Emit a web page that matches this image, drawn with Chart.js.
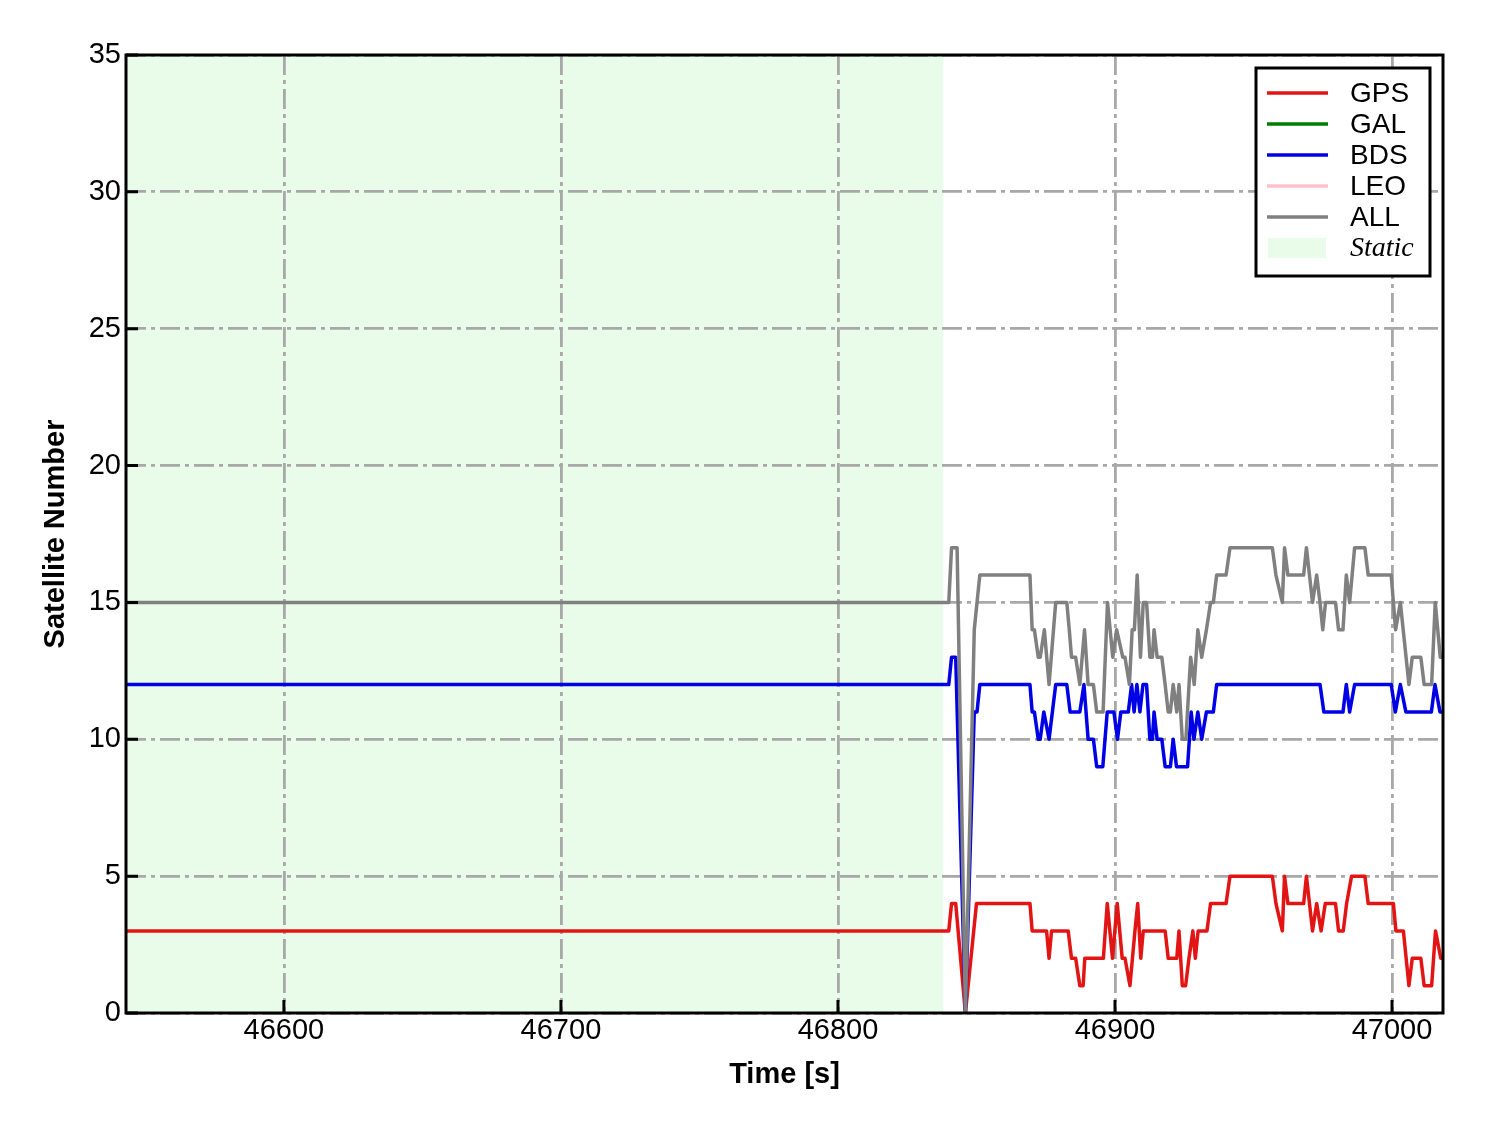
<!DOCTYPE html>
<html>
<head>
<meta charset="utf-8">
<script src="https://cdn.jsdelivr.net/npm/chart.js@4/dist/chart.umd.min.js"></script>
<style>
  html, body { margin: 0; padding: 0; background: #fff; }
  #wrap { width: 1488px; height: 1133px; }
</style>
</head>
<body>
<div id="wrap"><canvas id="satChart" width="1488" height="1133"></canvas></div>
<script>
// ---------------------------
// Data (time in seconds of day)
// ---------------------------
const timeMin = 46543;
const timeMax = 47018.4;
const staticEnd = 46838;

const xTicks = [46600, 46700, 46800, 46900, 47000];
const yTicks = [0, 5, 10, 15, 20, 25, 30, 35];

// GPS: change points
const gpsTime = [46540, 46840, 46841, 46842.5, 46846, 46850, 46869.3, 46870.1, 46875.3, 46876.2,
  46877.1, 46883.1, 46884.3, 46885.8, 46887.3, 46888.5, 46889.1, 46895.8, 46897.2, 46899.1,
  46900.8, 46902.6, 46903.6, 46905.4, 46907.2, 46908.2, 46909.3, 46910.2, 46918.1, 46919.2,
  46922.3, 46923.1, 46924.3, 46925.5, 46926.7, 46928.1, 46929, 46930, 46933.2, 46934.5,
  46940.1, 46941.5, 46956.8, 46958.1, 46960.4, 46961.2, 46962.4, 46968.1, 46969.1, 46971.3,
  46972.8, 46974.4, 46975.9, 46979.6, 46980.7, 46982.4, 46983.6, 46985.4, 46990.2, 46991.4,
  47000.5, 47001.4, 47004.1, 47006.1, 47007.3, 47010.4, 47011.6, 47014.3, 47015.7, 47017.6,
  47019];
const gpsSat = [3, 3, 4, 4, 0, 4, 4, 3, 3, 2,
  3, 3, 2, 2, 1, 1, 2, 2, 4, 2,
  4, 2, 2, 1, 3, 4, 2, 3, 3, 2,
  2, 3, 1, 1, 2, 3, 2, 3, 3, 4,
  4, 5, 5, 4, 3, 5, 4, 4, 5, 3,
  4, 3, 4, 4, 3, 3, 4, 5, 5, 4,
  4, 3, 3, 1, 2, 2, 1, 1, 3, 2,
  2];

// BDS: change points
const bdsTime = [46540, 46840, 46841, 46842.5, 46846, 46849.2, 46850.2, 46851.2, 46869.3, 46870.1,
  46870.9, 46872.3, 46873, 46874.3, 46876.2, 46878.6, 46882.6, 46883.8, 46887.3, 46888.8,
  46890.3, 46892.2, 46893.4, 46895.6, 46897.2, 46899.6, 46900.9, 46902.1, 46904.8, 46906,
  46906.9, 46907.9, 46909, 46910.1, 46911.4, 46912.6, 46913.5, 46914.1, 46915.2, 46916.9,
  46918.1, 46920, 46921, 46922.2, 46926.2, 46927.5, 46928.5, 46929.9, 46931.3, 46933,
  46935.5, 46936.7, 46974, 46975.4, 46982.3, 46983.5, 46984.7, 46986.5, 46999.7, 47001.2,
  47003, 47005, 47014.2, 47015.5, 47017.3, 47019];
const bdsSat = [12, 12, 13, 13, 0, 11, 11, 12, 12, 11,
  11, 10, 10, 11, 10, 12, 12, 11, 11, 12,
  10, 10, 9, 9, 11, 11, 10, 11, 11, 12,
  11, 12, 11, 12, 12, 10, 10, 11, 10, 10,
  9, 9, 10, 9, 9, 11, 10, 11, 10, 11,
  11, 12, 12, 11, 11, 12, 11, 12, 12, 11,
  12, 11, 11, 12, 11, 11];

// ALL: change points
const allTime = [46540, 46840, 46841, 46843, 46846, 46849.2, 46850.2, 46851.2, 46869.3, 46870.1,
  46870.9, 46872.3, 46873, 46874.5, 46876.2, 46878.6, 46882.6, 46883.5, 46884.3, 46885.8,
  46887.3, 46889, 46890.3, 46892.2, 46893.4, 46895.7, 46897.3, 46899.2, 46900.6, 46902.8,
  46903.6, 46905.2, 46906.2, 46907, 46908, 46909.2, 46910.2, 46911.4, 46912.6, 46913.5,
  46914.1, 46915.2, 46916.9, 46918.1, 46919.2, 46920, 46921, 46922.3, 46923.1, 46924.3,
  46925.6, 46927.3, 46928.6, 46929.9, 46931.3, 46933, 46934.5, 46935.5, 46936.7, 46940.1,
  46941.5, 46956.8, 46958.1, 46960.4, 46961.2, 46962.4, 46968.1, 46969.1, 46971.3, 46972.8,
  46974, 46975, 46976, 46979.6, 46980.7, 46982.3, 46983.5, 46984.7, 46986.5, 46990.2,
  46991.4, 46999.7, 47001.3, 47003, 47006.1, 47007.3, 47010.4, 47011.6, 47014.3, 47015.6,
  47017.4, 47019];
const allSat = [15, 15, 17, 17, 0, 14, 15, 16, 16, 14,
  14, 13, 13, 14, 12, 15, 15, 14, 13, 13,
  12, 14, 12, 12, 11, 11, 15, 13, 14, 13,
  13, 12, 14, 14, 16, 13, 15, 15, 13, 13,
  14, 13, 13, 12, 11, 11, 12, 11, 12, 10,
  10, 13, 12, 14, 13, 14, 15, 15, 16, 16,
  17, 17, 16, 15, 17, 16, 16, 17, 15, 16,
  15, 14, 15, 15, 14, 14, 16, 15, 17, 17,
  16, 16, 14, 15, 12, 13, 13, 12, 12, 15,
  13, 13];

// GAL and LEO have no observations in this window
const galTime = [];
const galSat = [];
const leoTime = [];
const leoSat = [];

function toPoints(times, values) {
  return times.map((t, i) => ({ x: t, y: values[i] }));
}

// ---------------------------
// Plugins
// ---------------------------
const staticShade = {
  id: 'staticShade',
  beforeDraw(chart) {
    const { ctx, chartArea, scales } = chart;
    const x1 = scales.x.getPixelForValue(timeMin);
    const x2 = scales.x.getPixelForValue(staticEnd);
    ctx.save();
    ctx.fillStyle = 'rgba(144, 238, 144, 0.2)';
    ctx.fillRect(x1, chartArea.top, x2 - x1, chartArea.bottom - chartArea.top);
    ctx.restore();
  }
};

const frameAndTicks = {
  id: 'frameAndTicks',
  afterDatasetsDraw(chart) {
    const { ctx, chartArea, scales } = chart;
    ctx.save();
    ctx.strokeStyle = '#000';
    ctx.lineWidth = 3;
    ctx.beginPath();
    xTicks.forEach(v => {
      const px = scales.x.getPixelForValue(v);
      ctx.moveTo(px, chartArea.bottom);
      ctx.lineTo(px, chartArea.bottom - 13);
    });
    yTicks.forEach(v => {
      const py = scales.y.getPixelForValue(v);
      ctx.moveTo(chartArea.left, py);
      ctx.lineTo(chartArea.left + 12, py);
    });
    ctx.stroke();
    ctx.strokeRect(chartArea.left, chartArea.top,
      chartArea.right - chartArea.left, chartArea.bottom - chartArea.top);
    ctx.restore();
  }
};

const legendBox = {
  id: 'legendBox',
  afterDraw(chart) {
    const { ctx, chartArea } = chart;
    const w = 174, h = 208;
    const x0 = chartArea.right - 13 - w;
    const y0 = chartArea.top + 13;
    ctx.save();
    ctx.fillStyle = '#fff';
    ctx.fillRect(x0, y0, w, h);
    ctx.lineWidth = 3;
    ctx.strokeStyle = '#000';
    ctx.strokeRect(x0, y0, w, h);
    ctx.textBaseline = 'middle';
    ctx.textAlign = 'left';
    chart.data.datasets.forEach((ds, i) => {
      const cy = y0 + 25 + i * 31;
      ctx.strokeStyle = ds.borderColor;
      ctx.lineWidth = 3.5;
      ctx.beginPath();
      ctx.moveTo(x0 + 11, cy);
      ctx.lineTo(x0 + 72, cy);
      ctx.stroke();
      ctx.fillStyle = '#000';
      ctx.font = '28px "Liberation Sans", Arial, sans-serif';
      ctx.fillText(ds.label, x0 + 94, cy + 1);
    });
    const sy = y0 + 25 + 5 * 31;
    ctx.fillStyle = 'rgba(144, 238, 144, 0.2)';
    ctx.fillRect(x0 + 12, sy - 10, 58, 20);
    ctx.fillStyle = '#000';
    ctx.font = 'italic 28px "Liberation Serif", "Times New Roman", serif';
    ctx.fillText('Static', x0 + 94, sy + 1);
    ctx.restore();
  }
};

// ---------------------------
// Chart
// ---------------------------
const lineStyle = { borderWidth: 3.5, pointRadius: 0, tension: 0, fill: false, borderJoinStyle: 'round' };
const tickFont = { family: '"Liberation Sans", Arial, sans-serif', size: 29 };
const titleFont = { family: '"Liberation Sans", Arial, sans-serif', size: 29, weight: 'bold' };

new Chart(document.getElementById('satChart'), {
  type: 'line',
  data: {
    datasets: [
      { label: 'GPS', data: toPoints(gpsTime, gpsSat), borderColor: '#e31414', order: 4, ...lineStyle },
      { label: 'GAL', data: toPoints(galTime, galSat), borderColor: '#007d00', order: 3, ...lineStyle },
      { label: 'BDS', data: toPoints(bdsTime, bdsSat), borderColor: '#0000e6', order: 2, ...lineStyle },
      { label: 'LEO', data: toPoints(leoTime, leoSat), borderColor: '#ffc0cb', order: 1, ...lineStyle },
      { label: 'ALL', data: toPoints(allTime, allSat), borderColor: '#808080', order: 0, ...lineStyle }
    ]
  },
  options: {
    responsive: false,
    animation: false,
    devicePixelRatio: 1,
    layout: { padding: { top: 55, right: 45, left: 0, bottom: 0 } },
    plugins: { legend: { display: false }, tooltip: { enabled: false } },
    scales: {
      x: {
        type: 'linear',
        min: timeMin,
        max: timeMax,
        afterBuildTicks: s => { s.ticks = xTicks.map(v => ({ value: v })); },
        afterFit: s => { s.height = 120; },
        ticks: { font: tickFont, color: '#000', padding: 1, callback: v => String(v) },
        grid: { color: '#a8a8a8', lineWidth: 2.8, drawTicks: false },
        border: { display: false, dash: [20, 5, 4, 5] },
        title: { display: true, text: 'Time [s]', font: titleFont, color: '#000', padding: { top: 0, bottom: 41 } }
      },
      y: {
        type: 'linear',
        min: 0,
        max: 35,
        afterBuildTicks: s => { s.ticks = yTicks.map(v => ({ value: v })); },
        afterFit: s => { s.width = 126; },
        ticks: { font: tickFont, color: '#000', padding: 5, callback: v => String(v) },
        grid: { color: '#a8a8a8', lineWidth: 2.8, drawTicks: false },
        border: { display: false, dash: [20, 5, 4, 5] },
        title: { display: true, text: 'Satellite Number', font: titleFont, color: '#000', padding: { top: 39, bottom: 0 } }
      }
    }
  },
  plugins: [staticShade, frameAndTicks, legendBox]
});
</script>
</body>
</html>
